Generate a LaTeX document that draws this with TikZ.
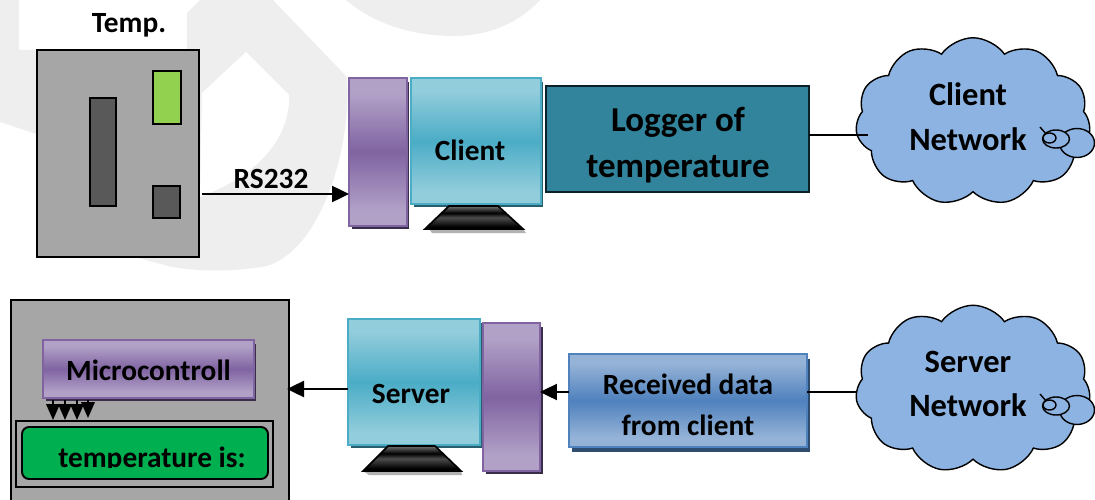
\documentclass[tikz,border=0pt]{standalone}
\usepackage{fontspec}
\setmainfont{Carlito}
\usepackage{xcolor}
\usetikzlibrary{arrows.meta,shapes.symbols,shapes.geometric,shadows}
\definecolor{markgray}{HTML}{EEEEEE}
\definecolor{boardgray}{HTML}{A6A6A6}
\definecolor{partgray}{HTML}{595959}
\definecolor{ledgreen}{HTML}{92D050}
\definecolor{lcdgreen}{HTML}{00B050}
\definecolor{loggerteal}{HTML}{31849B}
\definecolor{cloudblue}{HTML}{8DB3E2}
\definecolor{purpledark}{HTML}{8064A2}
\definecolor{purplelight}{HTML}{B2A1C7}
\definecolor{tealdark}{HTML}{4BACC6}
\definecolor{teallight}{HTML}{92CDDC}
\definecolor{bluedark}{HTML}{4F81BD}
\definecolor{bluelight}{HTML}{95B3D7}
\pgfdeclareverticalshading{purpleband}{100bp}{color(0bp)=(purplelight); color(30bp)=(purplelight); color(50bp)=(purpledark); color(70bp)=(purplelight); color(100bp)=(purplelight)}
\pgfdeclareverticalshading{tealband}{100bp}{color(0bp)=(teallight); color(30bp)=(teallight); color(50bp)=(tealdark); color(70bp)=(teallight); color(100bp)=(teallight)}
\pgfdeclareverticalshading{blueband}{100bp}{color(0bp)=(bluelight); color(30bp)=(bluelight); color(50bp)=(bluedark); color(70bp)=(bluelight); color(100bp)=(bluelight)}
\pgfdeclareverticalshading{standband}{100bp}{color(0bp)=(black); color(30bp)=(black); color(50bp)=(black!70); color(60bp)=(black); color(75bp)=(black!55); color(100bp)=(black!55)}
\tikzset{
  label16/.style={font=\fontsize{16.7}{19}\selectfont\bfseries,text=black,align=center},
  label18/.style={font=\fontsize{18.5}{25.5}\selectfont\bfseries,text=black,align=center},
  label19/.style={font=\fontsize{19.9}{26.5}\selectfont\bfseries,text=black,align=center},
  blockbox/.style={rectangle,inner sep=0pt,outer sep=0pt,line width=1.2pt},
  purplebox/.style={blockbox,draw=purpledark,shading=purpleband,
    drop shadow={shadow xshift=0.05cm,shadow yshift=-0.07cm,fill=black!55!purpledark,opacity=1}},
  tealbox/.style={blockbox,draw=tealdark,shading=tealband,
    drop shadow={shadow xshift=0.05cm,shadow yshift=-0.07cm,fill=black!45!tealdark,opacity=1}},
  bluebox/.style={blockbox,draw=bluedark,shading=blueband,
    drop shadow={shadow xshift=0.06cm,shadow yshift=-0.1cm,fill=black!40!bluedark,opacity=1}},
  partbox/.style={rectangle,draw=black,line width=1.1pt,inner sep=0pt,outer sep=0pt},
  netcloud/.style={cloud,cloud puffs=11,cloud puff arc=110,cloud ignores aspect,shape border rotate=8,draw=black,line width=0.8pt,
    fill=cloudblue,minimum width=4.7cm,minimum height=3.35cm,inner sep=0pt,outer sep=0pt},
  bubble/.style={ellipse,draw=black,line width=0.8pt,inner sep=0pt,outer sep=0pt},
  sendarrow/.style={line width=1.4pt,-{Triangle[length=0.34cm,width=0.32cm]}},
  pinarrow/.style={line width=1.2pt,-{Triangle[length=0.32cm,width=0.27cm]}},
  standfoot/.style={shading=standband,draw=black,line width=1pt}
}
\begin{document}
\begin{tikzpicture}[x=0.02cm,y=-0.02cm]
\useasboundingbox (0,0) rectangle (1095,500);
% watermark behind everything
\fill [markgray] (0,0) -- (19,0) -- (19,50) -- (187,50) -- (187,13) -- (200,0) -- (273,0) -- (347,77)
  .. controls (352,150) and (320,250) .. (267,266)
  .. controls (235,272) and (195,272) .. (168,266) -- (135,257) -- (105,157) -- (0,122) -- cycle;
\fill [white] (202,93) -- (246,52) -- (289,95) -- (289,103)
  .. controls (285,150) and (245,180) .. (200,197) -- cycle;
\fill [markgray] (346,0) .. controls (375,25) and (415,36) .. (453,36)
  .. controls (490,36) and (520,22) .. (540,0) -- cycle;

% temperature board
\node [partbox,fill=boardgray,minimum width=3.24cm,minimum height=4.14cm] (board) at (118,153.5) {};
\node [partbox,fill=partgray,minimum width=0.52cm,minimum height=2.16cm] (tallpart) at (103,152) {};
\node [partbox,fill=ledgreen,minimum width=0.56cm,minimum height=1.06cm] (led) at (167,97.5) {};
\node [partbox,fill=partgray,minimum width=0.54cm,minimum height=0.64cm] (smallpart) at (166.5,202) {};
\node [label16] (templabel) at (129,25) {Temp.};

% client row
\node [purplebox,minimum width=1.16cm,minimum height=2.96cm] (clientport) at (378,152) {};
\node [tealbox,minimum width=2.6cm,minimum height=2.52cm] (clientpc) at (476,141) {};
\node [label16] (clienttext) at (470,150) {Client};
\fill [black!30] (432,233) -- (526,233) -- (523,229) -- (429,229) -- cycle;
\draw [standfoot] (449,206) -- (498,206) -- (523,229) -- (425,229) -- cycle;
\node [rectangle,draw=black!75!loggerteal,line width=1.2pt,fill=loggerteal,minimum width=5.26cm,
  minimum height=2.12cm,outer sep=0pt,inner sep=0pt] (logger) at (677.5,139) {};
\node [label19] (loggertext) at (678,145) {Logger of\\temperature};
\node [netcloud] (clientnet) at (973,121.5) {};
\node [label18] (clientnettext) at (968,117) {Client\\Network};
\node [bubble,fill=cloudblue,minimum width=0.7cm,minimum height=0.58cm] (clientbub) at (1077,143) {};
\node [bubble,fill=cloudblue,minimum width=0.54cm,minimum height=0.36cm] (clientbubm) at (1056,139) {};
\node [bubble,fill=cloudblue,minimum width=0.26cm,minimum height=0.2cm] (clientbubs) at (1049.5,138) {};
\coordinate (clientnick) at (1040,127);
\draw [line width=0.8pt] (clientnick) -- (clientbubs);

\coordinate (serialout) at (202,194);
\draw [sendarrow] (serialout) -- (clientport.west |- serialout);
\node [label16] (rslabel) at (271,179) {RS232};
\coordinate (clientnotch) at (868,135);
\draw [line width=0.8pt] (logger.east |- clientnotch) -- (clientnotch);

% server row
\node [partbox,fill=boardgray,minimum width=5.56cm,minimum height=4.4cm] (display) at (150,410) {};
\node [purplebox,minimum width=4.22cm,minimum height=1.16cm] (micro) at (148.5,369) {};
\node [label16] (microtext) at (148.5,370) {Microcontroll};
\node [partbox,minimum width=5.14cm,minimum height=1.32cm] (lcdframe) at (144.5,454) {};
\node [rectangle,rounded corners=0.14cm,draw=black,line width=1.1pt,fill=lcdgreen,minimum width=4.92cm,
  minimum height=1.04cm,inner sep=0pt,outer sep=0pt] (lcd) at (145,453) {};
\begin{scope}
\clip (22,427) rectangle (268,467);
\node [label16] (lcdtext) at (152,460) {temperature is:};
\end{scope}
\foreach \px/\tipy in {53/420,65/420,77/420,88/418}
  \draw [pinarrow] (\px,400) -- (\px,\tipy);

\node [tealbox,minimum width=2.64cm,minimum height=2.52cm] (serverpc) at (414,382) {};
\node [label16] (servertext) at (411,394) {Server};
\fill [black!30] (369,475) -- (462,475) -- (461,471) -- (363,471) -- cycle;
\draw [standfoot] (388,446) -- (435,446) -- (461,471) -- (363,471) -- cycle;
\node [purplebox,minimum width=1.14cm,minimum height=2.96cm] (serverport) at (511.5,397) {};
\node [bluebox,minimum width=4.76cm,minimum height=1.86cm,label16,font=\fontsize{16.7}{23.5}\selectfont\bfseries] (received) at (688,400.5) {};
\node [label16,font=\fontsize{16.7}{23.5}\selectfont\bfseries] (receivedtext) at (688,405) {Received data\\from client};
\node [netcloud] (servernet) at (973,389) {};
\node [label18] (servernettext) at (968,384) {Server\\Network};
\node [bubble,fill=cloudblue,minimum width=0.7cm,minimum height=0.58cm] (serverbub) at (1077,410) {};
\node [bubble,fill=cloudblue,minimum width=0.54cm,minimum height=0.36cm] (serverbubm) at (1056,406) {};
\node [bubble,fill=cloudblue,minimum width=0.26cm,minimum height=0.2cm] (serverbubs) at (1049.5,405) {};
\coordinate (servernick) at (1040,394);
\draw [line width=0.8pt] (servernick) -- (serverbubs);

\coordinate (receivedline) at (0,392);
\draw [line width=0.8pt] (received.east |- receivedline) -- (servernet.west |- receivedline);
\draw [sendarrow] (received.west |- receivedline) -- (serverport.east |- receivedline);
\coordinate (displayin) at (287,389);
\draw [sendarrow] (serverpc.west |- displayin) -- (displayin);
\end{tikzpicture}
\end{document}
